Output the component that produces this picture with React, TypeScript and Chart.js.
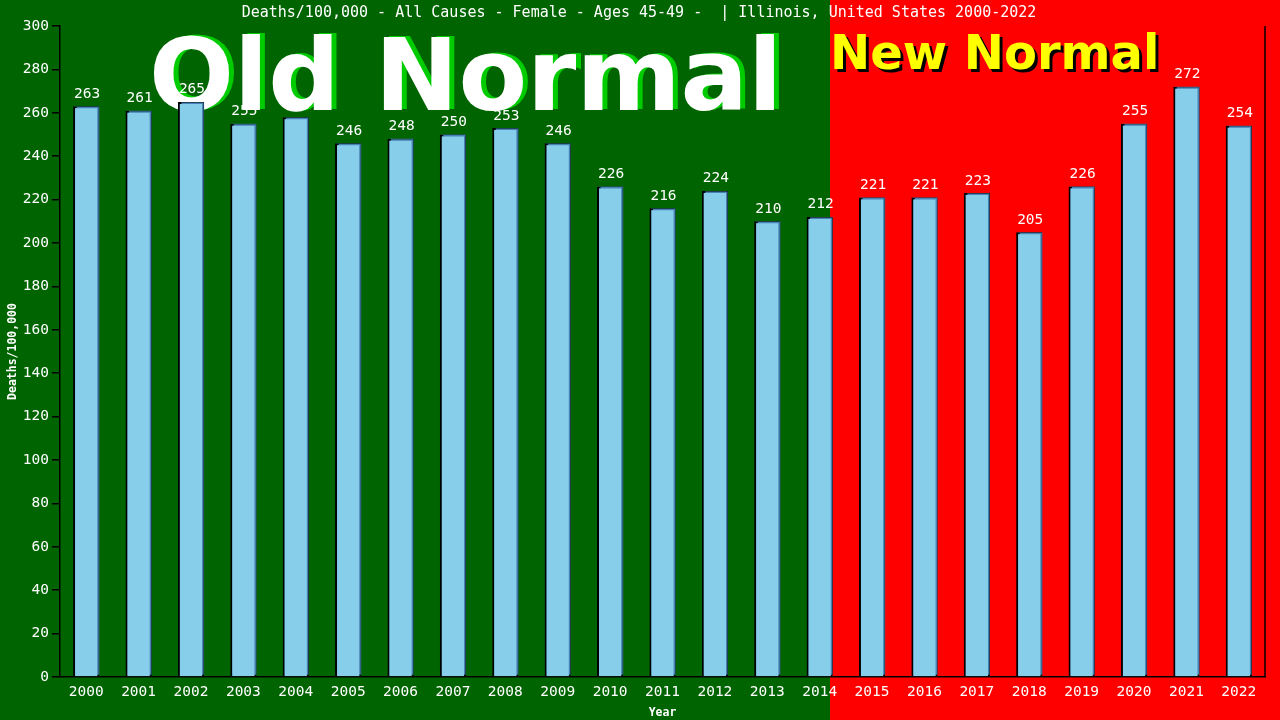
import React, { useEffect, useRef } from 'react';
import { Chart, registerables } from 'chart.js';

Chart.register(...registerables);

const years = [
  '2000', '2001', '2002', '2003', '2004', '2005', '2006', '2007', '2008', '2009', '2010', '2011',
  '2012', '2013', '2014', '2015', '2016', '2017', '2018', '2019', '2020', '2021', '2022',
];
const deaths = [
  263, 261, 265, 255, 258, 246, 248, 250, 253, 246, 226, 216,
  224, 210, 212, 221, 221, 223, 205, 226, 255, 272, 254,
];
const titleText = 'Deaths/100,000 - All Causes - Female - Ages 45-49 -  | Illinois, United States 2000-2022';
const yAxisTitle = 'Deaths/100,000';
const xAxisTitle = 'Year';
const lastOldYear = 14; // index of 2014

const MONO = '"DejaVu Sans Mono", "Liberation Mono", monospace';
const SANS = '"DejaVu Sans", Verdana, sans-serif';

// backgrounds, banner text, title, right frame line
const decorPlugin = {
  id: 'decor',
  beforeDraw(chart: any) {
    const { ctx, width, height, chartArea, scales } = chart;
    const x = scales.x;
    const slot = x.getPixelForValue(1) - x.getPixelForValue(0);
    const split = Math.round(x.getPixelForValue(lastOldYear) + slot * 0.195);
    ctx.save();
    ctx.fillStyle = '#006400';
    ctx.fillRect(0, 0, split, height);
    ctx.fillStyle = '#ff0000';
    ctx.fillRect(split, 0, width - split, height);

    // title
    ctx.fillStyle = '#ffffff';
    ctx.font = `15px ${MONO}`;
    ctx.textAlign = 'center';
    ctx.textBaseline = 'middle';
    ctx.fillText(titleText, 639, 13);

    // right frame line
    ctx.strokeStyle = '#000000';
    ctx.lineWidth = 1.5;
    ctx.beginPath();
    ctx.moveTo(chartArea.right, chartArea.top);
    ctx.lineTo(chartArea.right, chartArea.bottom);
    ctx.stroke();
    ctx.restore();
  },
  beforeDatasetsDraw(chart: any) {
    const { ctx } = chart;
    ctx.save();
    ctx.textAlign = 'left';
    ctx.textBaseline = 'alphabetic';
    ctx.font = `bold 100px ${SANS}`;
    ctx.fillStyle = '#00cc00';
    ctx.fillText('Old Normal', 154, 109);
    ctx.fillStyle = '#ffffff';
    ctx.fillText('Old Normal', 149, 110);

    ctx.font = `bold 48px ${SANS}`;
    ctx.fillStyle = '#000000';
    ctx.fillText('New Normal', 833, 72);
    ctx.fillStyle = '#ffff00';
    ctx.fillText('New Normal', 830, 69);
    ctx.restore();
  },
  beforeDatasetDraw(chart: any) {
    const { ctx } = chart;
    ctx.save();
    ctx.shadowColor = '#4682b4';
    ctx.shadowOffsetX = 1.5;
    ctx.shadowOffsetY = -1.5;
    ctx.shadowBlur = 0;
  },
  afterDatasetDraw(chart: any) {
    chart.ctx.restore();
  },
  afterDatasetsDraw(chart: any) {
    const { ctx } = chart;
    const meta = chart.getDatasetMeta(0);
    ctx.save();
    ctx.fillStyle = '#ffffff';
    ctx.font = `14.5px ${MONO}`;
    ctx.textAlign = 'center';
    ctx.textBaseline = 'bottom';
    meta.data.forEach((bar: any, i: number) => {
      ctx.fillText(String(deaths[i]), bar.x + 1, bar.y - 5);
    });
    ctx.restore();
  },
};

const App = () => {
  const canvasRef = useRef<HTMLCanvasElement | null>(null);

  useEffect(() => {
    if (!canvasRef.current) return;
    const chart = new Chart(canvasRef.current, {
      type: 'bar',
      data: {
        labels: years,
        datasets: [{
          data: deaths,
          backgroundColor: '#87ceeb',
          borderColor: '#000000',
          borderWidth: 2,
          categoryPercentage: 1,
          barPercentage: 0.5,
        }],
      },
      options: {
        responsive: false,
        maintainAspectRatio: false,
        animation: false,
        devicePixelRatio: 1,
        layout: { padding: { left: 0, right: 15, top: 26, bottom: 0 } },
        plugins: {
          legend: { display: false },
          tooltip: { enabled: false },
          title: { display: false },
        },
        scales: {
          x: {
            grid: { display: false, drawTicks: false },
            border: { display: true, color: '#000000', width: 1.5 },
            ticks: {
              color: '#ffffff',
              font: { family: MONO, size: 14.5 },
              padding: 7,
              maxRotation: 0,
              autoSkip: false,
            },
            title: {
              display: true,
              text: xAxisTitle,
              color: '#ffffff',
              font: { family: MONO, size: 11.5, weight: 'bold' },
              padding: { top: 2, bottom: 0 },
            },
            afterFit: (scale: any) => { scale.height = 43; },
          },
          y: {
            min: 0,
            max: 300,
            grid: {
              drawOnChartArea: false,
              drawTicks: true,
              tickLength: 8,
              color: '#000000',
              lineWidth: 1.5,
            },
            border: { display: true, color: '#000000', width: 1.5 },
            ticks: {
              stepSize: 20,
              color: '#ffffff',
              font: { family: MONO, size: 14.5 },
              padding: 3,
            },
            title: {
              display: true,
              text: yAxisTitle,
              color: '#ffffff',
              font: { family: MONO, size: 11.5, weight: 'bold' },
              padding: { top: 6, bottom: 4 },
            },
            afterFit: (scale: any) => { scale.width = 60; },
          },
        },
      },
      plugins: [decorPlugin],
    });
    return () => chart.destroy();
  }, []);

  return (
    <div style={{ position: 'fixed', left: 0, top: 0, width: 1280, height: 720 }}>
      <canvas ref={canvasRef} width={1280} height={720} />
    </div>
  );
};

export default App;
